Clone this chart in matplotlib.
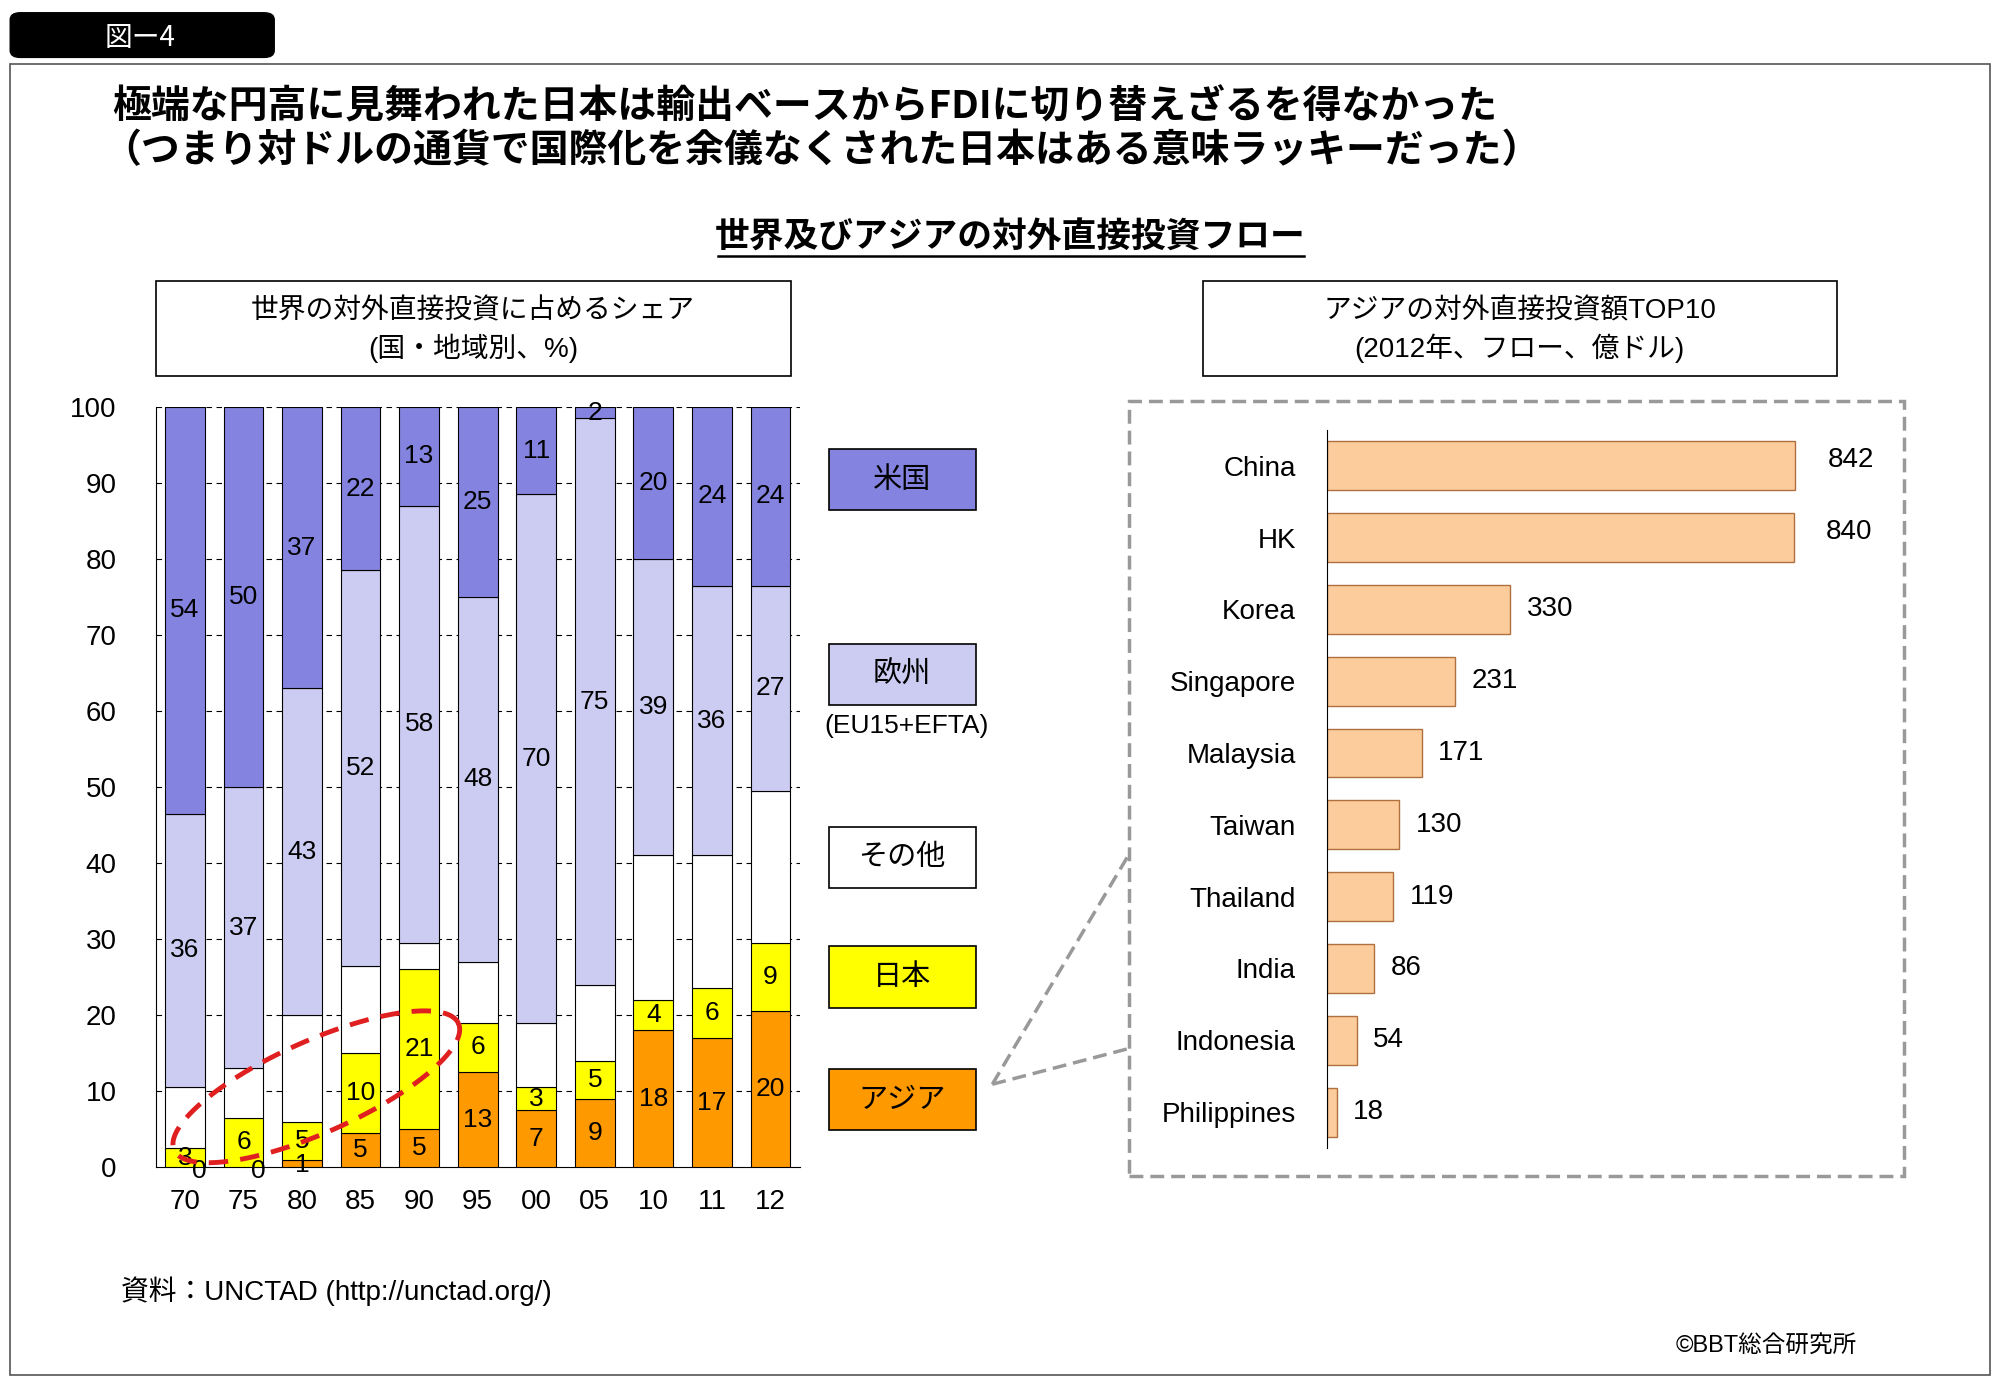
import numpy as np
import matplotlib
matplotlib.use("Agg")
import matplotlib.pyplot as plt
from matplotlib.patches import Rectangle, FancyBboxPatch
from matplotlib.lines import Line2D

plt.rcParams['font.family'] = ['Liberation Sans', 'Noto Sans CJK JP', 'DejaVu Sans']

years = ['70', '75', '80', '85', '90', '95', '00', '05', '10', '11', '12']
asia = [0, 0, 1, 4.5, 5, 12.5, 7.5, 9, 18, 17, 20.5]
japan = [2.5, 6.5, 5, 10.5, 21, 6.5, 3, 5, 4, 6.5, 9]
other = [8, 6.5, 14, 11.5, 3.5, 8, 8.5, 10, 19, 17.5, 20]
europe = [36, 37, 43, 52, 57.5, 48, 69.5, 74.5, 39, 35.5, 27]
usa = [53.5, 50, 37, 21.5, 13, 25, 11.5, 1.5, 20, 23.5, 23.5]
asia_lbl = ['0', '0', '1', '5', '5', '13', '7', '9', '18', '17', '20']
japan_lbl = ['3', '6', '5', '10', '21', '6', '3', '5', '4', '6', '9']
europe_lbl = ['36', '37', '43', '52', '58', '48', '70', '75', '39', '36', '27']
usa_lbl = ['54', '50', '37', '22', '13', '25', '11', '2', '20', '24', '24']

countries = ['China', 'HK', 'Korea', 'Singapore', 'Malaysia', 'Taiwan',
             'Thailand', 'India', 'Indonesia', 'Philippines']
fdi = [842, 840, 330, 231, 171, 130, 119, 86, 54, 18]

W, H = 1568, 1085
def fx(x): return x / W
def fy(y): return 1 - y / H

fig = plt.figure(figsize=(20, 13.84), dpi=100)
jp = ['Noto Sans CJK JP', 'DejaVu Sans']
mix = ['Liberation Sans', 'Noto Sans CJK JP', 'DejaVu Sans']

# frame and tag
fig.add_artist(Rectangle((fx(8), fy(1078)), fx(1552), (1028) / H, transform=fig.transFigure,
                         fill=False, ec='#555555', lw=1.2))
fig.add_artist(FancyBboxPatch((fx(8), fy(45)), fx(207), 35 / H, boxstyle='round,pad=0,rounding_size=0.005',
                              transform=fig.transFigure, fc='black', ec='black'))
fig.text(fx(110), fy(30), '図ー4', color='white', fontsize=20, ha='center', va='center', family=jp)
fig.text(fx(88), fy(84), '極端な円高に見舞われた日本は輸出ベースからFDIに切り替えざるを得なかった',
         fontsize=28, fontweight='bold', va='center', family=jp)
fig.text(fx(80), fy(118), '（つまり対ドルの通貨で国際化を余儀なくされた日本はある意味ラッキーだった）',
         fontsize=28, fontweight='bold', va='center', family=jp)
fig.text(fx(792), fy(186), '世界及びアジアの対外直接投資フロー', fontsize=25, fontweight='bold',
         ha='center', va='center', family=jp)
fig.add_artist(Line2D([fx(563), fx(1022)], [fy(201), fy(201)], transform=fig.transFigure, color='black', lw=1.8))

# header boxes
for x0, x1, l1, l2 in [(122, 620, '世界の対外直接投資に占めるシェア', '(国・地域別、%)'),
                       (943, 1440, 'アジアの対外直接投資額TOP10', '(2012年、フロー、億ドル)')]:
    fig.add_artist(Rectangle((fx(x0), fy(295)), fx(x1 - x0), 75 / H, transform=fig.transFigure,
                             fill=False, ec='black', lw=1.2))
    fig.text(fx((x0 + x1) / 2), fy(244), l1, fontsize=20, ha='center', va='center', family=mix)
    fig.text(fx((x0 + x1) / 2), fy(273), l2, fontsize=20, ha='center', va='center', family=mix)

# stacked bars
ax = fig.add_axes([fx(122), fy(915), fx(505), (915 - 319) / H])
x = np.arange(len(years))
cols = ['#FF9900', '#FFFF00', '#FFFFFF', '#CCCCF2', '#8484E0']
series = [asia, japan, other, europe, usa]
bottom = np.zeros(len(years))
for s, c in zip(series, cols):
    ax.bar(x, s, 0.68, bottom=bottom, color=c, edgecolor='black', lw=0.8, zorder=3)
    bottom = bottom + np.array(s)
for yv in range(10, 101, 10):
    ax.axhline(yv, color='black', ls=(0, (5, 4)), lw=0.8, zorder=1)
b = np.zeros(len(years))
for s, lb in [(asia, asia_lbl), (japan, japan_lbl), (other, None), (europe, europe_lbl), (usa, usa_lbl)]:
    for i in range(len(years)):
        if lb is not None:
            yc = b[i] + s[i] / 2
            xc = i
            if s[i] < 1.5:
                yc = b[i] - 0.5 if i < 2 else 0.3
                xc = i + 0.25 if i < 2 else i
            ax.text(xc, yc, lb[i], ha='center', va='center', fontsize=19, zorder=5, clip_on=False)
    b = b + np.array(s)
ax.set_xlim(-0.5, len(years) - 0.5)
ax.set_ylim(0, 100)
ax.set_yticks(range(0, 101, 10))
ax.set_xticks(x, years)
ax.tick_params(axis='y', labelsize=20, length=0, pad=28)
ax.tick_params(axis='x', labelsize=20, length=0, pad=16)
for lbl in ax.get_yticklabels():
    lbl.set_horizontalalignment('right')
for sp in ['top', 'right']:
    ax.spines[sp].set_visible(False)

# legend boxes
leg = [('米国', 352, cols[4]), ('欧州', 505, cols[3]), ('その他', 648, cols[2]),
       ('日本', 742, cols[1]), ('アジア', 838, cols[0])]
for name, y0, c in leg:
    fig.add_artist(Rectangle((fx(650), fy(y0 + 48)), fx(115), 48 / H, transform=fig.transFigure,
                             fc=c, ec='black', lw=1.2))
    fig.text(fx(707), fy(y0 + 24), name, fontsize=21, ha='center', va='center', family=jp)
fig.text(fx(711), fy(569), '(EU15+EFTA)', fontsize=19, ha='center', va='center')

# red dashed ellipse
cx, cy, a, bb, th = 248, 852, 122, 36, np.radians(24)
tt = np.linspace(0, 2 * np.pi, 200)
ex = cx + a * np.cos(tt) * np.cos(th) - bb * np.sin(tt) * np.sin(th)
ey = cy - (a * np.cos(tt) * np.sin(th) + bb * np.sin(tt) * np.cos(th))
fig.add_artist(Line2D(fx(ex), fy(ey), transform=fig.transFigure, color='#E02020', lw=3.5,
                      ls=(0, (4, 2.5)), zorder=10))

# dashed grey box and connectors
fig.add_artist(Rectangle((fx(885), fy(922)), fx(608), 608 / H, transform=fig.transFigure,
                         fill=False, ec='#999999', lw=2.5, ls=(0, (4, 2))))
for yy in [670, 822]:
    fig.add_artist(Line2D([fx(778), fx(885)], [fy(850), fy(yy)], transform=fig.transFigure,
                          color='#999999', lw=2.5, ls=(0, (4, 2))))

# horizontal bars
ax2 = fig.add_axes([fx(1040), fy(900), fx(440), (900 - 337) / H])
yy = np.arange(len(countries))
ax2.barh(yy, fdi, 0.68, color='#FCCC9C', edgecolor='#B07040', lw=1)
for i, v in enumerate(fdi):
    if v > 800:
        ax2.text(v + 100, i - 0.08, str(v), va='center', ha='center', fontsize=20)
    else:
        ax2.text(v + 30, i, str(v), va='center', ha='left', fontsize=20)
ax2.set_ylim(len(countries) - 0.5, -0.5)
ax2.set_xlim(0, 1009)
ax2.set_yticks(yy, countries)
ax2.set_xticks([])
ax2.tick_params(labelsize=20, length=0, pad=22)
for sp in ['top', 'right', 'bottom']:
    ax2.spines[sp].set_visible(False)

fig.text(fx(95), fy(1012), '資料：UNCTAD (http://unctad.org/)', fontsize=20, va='center', family=mix)
fig.text(fx(1456), fy(1056), '©BBT総合研究所', fontsize=17, ha='right', va='center', family=mix)

fig.savefig('out.png', dpi=100)
